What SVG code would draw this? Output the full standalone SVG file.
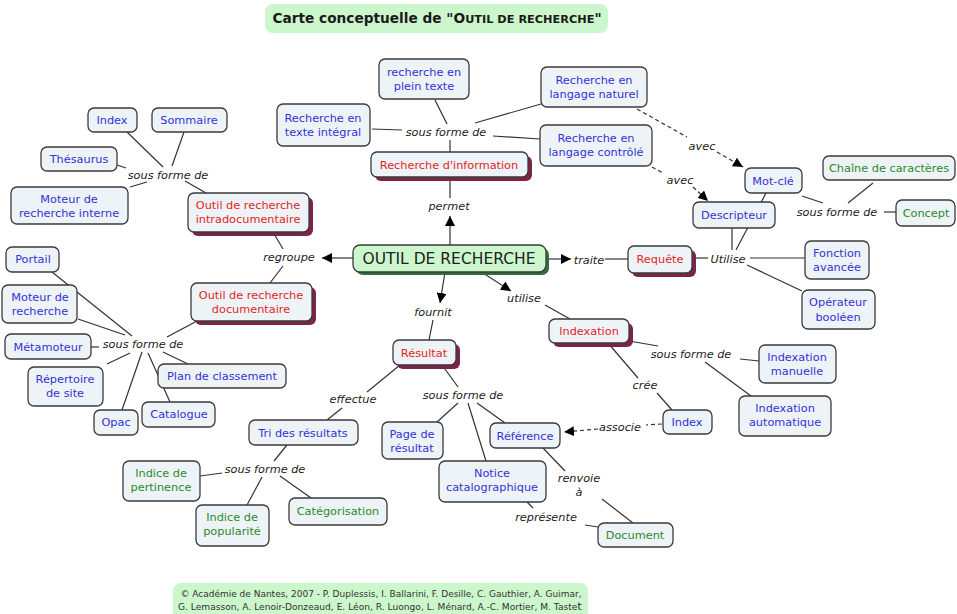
<svg xmlns="http://www.w3.org/2000/svg" width="957" height="614" viewBox="0 0 957 614">
<style>
.n rect.box{fill:#eef3f7;stroke:#3a3a3a;stroke-width:1.3}
.sh{fill:#7b2349}
text{font-family:"DejaVu Sans",Verdana,sans-serif;font-size:11.3px;text-anchor:middle}
.b{fill:#3232d8}
.r{fill:#e42424}
.g{fill:#2a8a2a}
.l{fill:#222;font-style:italic}
#connectors line{stroke:#333;stroke-width:1.2}
#connectors line.d{stroke-dasharray:4 3}
</style>
<defs>
<marker id="ah" viewBox="0 0 10 10" refX="10" refY="5" markerWidth="10" markerHeight="10" markerUnits="userSpaceOnUse" orient="auto"><path d="M0,0 L10,5 L0,10 z" fill="#000"/></marker>
</defs>
<rect width="957" height="614" fill="#fff"/>
<g id="title">
<rect x="265" y="4" width="343" height="29" rx="8" fill="#ccf7cc"/>
<text x="437" y="23" style="font-weight:bold;font-size:13.7px;fill:#1a1a1a">Carte conceptuelle de "O<tspan style="font-size:11.3px">UTIL DE RECHERCHE</tspan>"</text>
</g>
<g id="connectors">
<line x1="435" y1="100" x2="447" y2="124"/>
<line x1="372" y1="129" x2="402" y2="130"/>
<line x1="475" y1="123" x2="541" y2="104"/>
<line x1="493" y1="136" x2="540" y2="139"/>
<line x1="450" y1="140" x2="450" y2="152"/>
<line x1="450" y1="177" x2="450" y2="198"/>
<line x1="450" y1="245" x2="450" y2="216" marker-end="url(#ah)"/>
<line x1="353" y1="258" x2="322" y2="258" marker-end="url(#ah)"/>
<line x1="546" y1="259" x2="571" y2="259" marker-end="url(#ah)"/>
<line x1="445" y1="272" x2="440" y2="303" marker-end="url(#ah)"/>
<line x1="483" y1="273" x2="511" y2="291" marker-end="url(#ah)"/>
<line class="d" x1="637" y1="109" x2="687" y2="137"/>
<line class="d" x1="717" y1="152" x2="743" y2="167" marker-end="url(#ah)"/>
<line class="d" x1="652" y1="167" x2="663" y2="173"/>
<line class="d" x1="693" y1="187" x2="708" y2="201" marker-end="url(#ah)"/>
<line class="d" x1="662" y1="424" x2="646" y2="425"/>
<line class="d" x1="598" y1="429" x2="564" y2="432" marker-end="url(#ah)"/>
<line x1="605" y1="259" x2="628" y2="259"/>
<line x1="692" y1="258" x2="708" y2="258"/>
<line x1="732" y1="228" x2="732" y2="250"/>
<line x1="766" y1="193" x2="736" y2="250"/>
<line x1="750" y1="258" x2="805" y2="258"/>
<line x1="747" y1="265" x2="802" y2="291"/>
<line x1="802" y1="196" x2="823" y2="203"/>
<line x1="848" y1="203" x2="873" y2="183"/>
<line x1="884" y1="212" x2="896" y2="212"/>
<line x1="127" y1="132" x2="163" y2="167"/>
<line x1="184" y1="132" x2="172" y2="166"/>
<line x1="117" y1="165" x2="126" y2="168"/>
<line x1="130" y1="187" x2="147" y2="182"/>
<line x1="185" y1="181" x2="206" y2="193"/>
<line x1="273" y1="232" x2="283" y2="249"/>
<line x1="283" y1="266" x2="270" y2="283"/>
<line x1="52" y1="272" x2="132" y2="336"/>
<line x1="78" y1="319" x2="125" y2="335"/>
<line x1="91" y1="347" x2="99" y2="347"/>
<line x1="107" y1="364" x2="130" y2="353"/>
<line x1="122" y1="410" x2="142" y2="352"/>
<line x1="170" y1="402" x2="148" y2="353"/>
<line x1="163" y1="352" x2="188" y2="364"/>
<line x1="167" y1="337" x2="197" y2="321"/>
<line x1="433" y1="320" x2="429" y2="340"/>
<line x1="400" y1="365" x2="367" y2="392"/>
<line x1="342" y1="408" x2="327" y2="420"/>
<line x1="442" y1="365" x2="458" y2="387"/>
<line x1="458" y1="403" x2="437" y2="422"/>
<line x1="468" y1="403" x2="486" y2="461"/>
<line x1="477" y1="403" x2="505" y2="423"/>
<line x1="543" y1="448" x2="565" y2="471"/>
<line x1="602" y1="499" x2="633" y2="523"/>
<line x1="527" y1="502" x2="533" y2="508"/>
<line x1="585" y1="525" x2="598" y2="527"/>
<line x1="287" y1="445" x2="274" y2="461"/>
<line x1="222" y1="473" x2="200" y2="476"/>
<line x1="262" y1="477" x2="247" y2="505"/>
<line x1="280" y1="476" x2="311" y2="498"/>
<line x1="545" y1="305" x2="570" y2="319"/>
<line x1="629" y1="341" x2="658" y2="346"/>
<line x1="740" y1="359" x2="759" y2="361"/>
<line x1="705" y1="362" x2="751" y2="396"/>
<line x1="608" y1="343" x2="638" y2="378"/>
<line x1="657" y1="393" x2="672" y2="410"/>
</g>
<g id="labels">
<text class="l" x="446" y="136">sous forme de</text>
<text class="l" x="449" y="210">permet</text>
<text class="l" x="289" y="261">regroupe</text>
<text class="l" x="589" y="264">traite</text>
<text class="l" x="433" y="316">fournit</text>
<text class="l" x="524" y="302">utilise</text>
<text class="l" x="728" y="263">Utilise</text>
<text class="l" x="702" y="150">avec</text>
<text class="l" x="680" y="184">avec</text>
<text class="l" x="837" y="216">sous forme de</text>
<text class="l" x="168" y="179">sous forme de</text>
<text class="l" x="143" y="348">sous forme de</text>
<text class="l" x="353" y="403">effectue</text>
<text class="l" x="463" y="399">sous forme de</text>
<text class="l" x="265" y="473">sous forme de</text>
<text class="l" x="579" y="482">renvoie</text>
<text class="l" x="579" y="496">à</text>
<text class="l" x="546" y="521">représente</text>
<text class="l" x="691" y="358">sous forme de</text>
<text class="l" x="645" y="389">crée</text>
<text class="l" x="620" y="431">associe</text>
</g>
<g id="n_plein" class="n"><rect class="box" x="379" y="59" width="90" height="40" rx="6"/><text class="b" x="424" y="76">recherche en</text><text class="b" x="424" y="90">plein texte</text></g>
<g id="n_integral" class="n"><rect class="box" x="277" y="104" width="93" height="42" rx="6"/><text class="b" x="323" y="122">Recherche en</text><text class="b" x="323" y="136">texte intégral</text></g>
<g id="n_naturel" class="n"><rect class="box" x="541" y="67" width="106" height="40" rx="6"/><text class="b" x="594" y="84">Recherche en</text><text class="b" x="594" y="98">langage naturel</text></g>
<g id="n_controle" class="n"><rect class="box" x="540" y="125" width="112" height="41" rx="6"/><text class="b" x="596" y="142">Recherche en</text><text class="b" x="596" y="156">langage contrôlé</text></g>
<g id="n_recinfo" class="n"><rect class="sh" x="375" y="156" width="157" height="25" rx="6"/><rect class="box" x="371" y="152" width="157" height="25" rx="6"/><text class="r" x="449" y="169">Recherche d'information</text></g>
<g id="n_outil" class="n"><rect x="356" y="248" width="193" height="27" rx="7" fill="#2f6e3f"/><rect x="353" y="245" width="193" height="27" rx="7" fill="#ccf7cc" stroke="#3a3a3a" stroke-width="1.3"/><text x="449" y="264" style="font-size:15.5px;fill:#222">OUTIL DE RECHERCHE</text></g>
<g id="n_requete" class="n"><rect class="sh" x="632" y="250" width="64" height="27" rx="6"/><rect class="box" x="628" y="246" width="64" height="27" rx="6"/><text class="r" x="660" y="263">Requête</text></g>
<g id="n_fonction" class="n"><rect class="box" x="805" y="241" width="64" height="38" rx="6"/><text class="b" x="837" y="257">Fonction</text><text class="b" x="837" y="271">avancée</text></g>
<g id="n_operateur" class="n"><rect class="box" x="802" y="290" width="73" height="39" rx="6"/><text class="b" x="838" y="306">Opérateur</text><text class="b" x="838" y="321">booléen</text></g>
<g id="n_motcle" class="n"><rect class="box" x="745" y="168" width="57" height="25" rx="6"/><text class="b" x="773" y="185">Mot-clé</text></g>
<g id="n_descripteur" class="n"><rect class="box" x="693" y="202" width="82" height="26" rx="6"/><text class="b" x="734" y="219">Descripteur</text></g>
<g id="n_chaine" class="n"><rect class="box" x="823" y="156" width="132" height="24" rx="6"/><text class="g" x="889" y="172">Chaîne de caractères</text></g>
<g id="n_concept" class="n"><rect class="box" x="896" y="200" width="59" height="26" rx="6"/><text class="g" x="926" y="217">Concept</text></g>
<g id="n_index1" class="n"><rect class="box" x="88" y="108" width="49" height="24" rx="6"/><text class="b" x="112" y="124">Index</text></g>
<g id="n_sommaire" class="n"><rect class="box" x="152" y="108" width="75" height="24" rx="6"/><text class="b" x="189" y="124">Sommaire</text></g>
<g id="n_thesaurus" class="n"><rect class="box" x="41" y="147" width="76" height="24" rx="6"/><text class="b" x="79" y="163">Thésaurus</text></g>
<g id="n_moteurint" class="n"><rect class="box" x="11" y="187" width="117" height="37" rx="6"/><text class="b" x="69" y="203">Moteur de</text><text class="b" x="69" y="217">recherche interne</text></g>
<g id="n_intra" class="n"><rect class="sh" x="192" y="197" width="121" height="39" rx="6"/><rect class="box" x="188" y="193" width="121" height="39" rx="6"/><text class="r" x="248" y="209">Outil de recherche</text><text class="r" x="248" y="223">intradocumentaire</text></g>
<g id="n_portail" class="n"><rect class="box" x="6" y="247" width="53" height="25" rx="6"/><text class="b" x="33" y="263">Portail</text></g>
<g id="n_moteur" class="n"><rect class="box" x="2" y="285" width="75" height="38" rx="6"/><text class="b" x="40" y="301">Moteur de</text><text class="b" x="40" y="315">recherche</text></g>
<g id="n_metamoteur" class="n"><rect class="box" x="5" y="334" width="86" height="25" rx="6"/><text class="b" x="48" y="351">Métamoteur</text></g>
<g id="n_repertoire" class="n"><rect class="box" x="28" y="367" width="75" height="39" rx="6"/><text class="b" x="65" y="383">Répertoire</text><text class="b" x="65" y="397">de site</text></g>
<g id="n_opac" class="n"><rect class="box" x="94" y="410" width="44" height="25" rx="6"/><text class="b" x="116" y="426">Opac</text></g>
<g id="n_catalogue" class="n"><rect class="box" x="142" y="402" width="73" height="25" rx="6"/><text class="b" x="179" y="418">Catalogue</text></g>
<g id="n_plan" class="n"><rect class="box" x="158" y="364" width="128" height="24" rx="6"/><text class="b" x="222" y="380">Plan de classement</text></g>
<g id="n_doc" class="n"><rect class="sh" x="195" y="287" width="121" height="38" rx="6"/><rect class="box" x="191" y="283" width="121" height="38" rx="6"/><text class="r" x="251" y="299">Outil de recherche</text><text class="r" x="251" y="313">documentaire</text></g>
<g id="n_resultat" class="n"><rect class="sh" x="397" y="344" width="63" height="25" rx="6"/><rect class="box" x="393" y="340" width="63" height="25" rx="6"/><text class="r" x="424" y="357">Résultat</text></g>
<g id="n_tri" class="n"><rect class="box" x="249" y="420" width="109" height="25" rx="6"/><text class="b" x="303" y="437">Tri des résultats</text></g>
<g id="n_page" class="n"><rect class="box" x="382" y="422" width="61" height="37" rx="6"/><text class="b" x="412" y="438">Page de</text><text class="b" x="412" y="452">résultat</text></g>
<g id="n_reference" class="n"><rect class="box" x="490" y="423" width="70" height="25" rx="6"/><text class="b" x="525" y="440">Référence</text></g>
<g id="n_notice" class="n"><rect class="box" x="439" y="461" width="107" height="41" rx="6"/><text class="b" x="492" y="477">Notice</text><text class="b" x="492" y="491">catalographique</text></g>
<g id="n_document" class="n"><rect class="box" x="598" y="523" width="75" height="24" rx="6"/><text class="g" x="635" y="539">Document</text></g>
<g id="n_pertinence" class="n"><rect class="box" x="123" y="461" width="77" height="40" rx="6"/><text class="g" x="161" y="477">Indice de</text><text class="g" x="161" y="491">pertinence</text></g>
<g id="n_popularite" class="n"><rect class="box" x="196" y="505" width="73" height="41" rx="6"/><text class="g" x="232" y="521">Indice de</text><text class="g" x="232" y="535">popularité</text></g>
<g id="n_categorisation" class="n"><rect class="box" x="289" y="498" width="98" height="27" rx="6"/><text class="g" x="338" y="515">Catégorisation</text></g>
<g id="n_indexation" class="n"><rect class="sh" x="553" y="323" width="80" height="24" rx="6"/><rect class="box" x="549" y="319" width="80" height="24" rx="6"/><text class="r" x="589" y="335">Indexation</text></g>
<g id="n_manuelle" class="n"><rect class="box" x="759" y="345" width="77" height="38" rx="6"/><text class="b" x="797" y="361">Indexation</text><text class="b" x="797" y="375">manuelle</text></g>
<g id="n_automatique" class="n"><rect class="box" x="739" y="396" width="92" height="40" rx="6"/><text class="b" x="785" y="412">Indexation</text><text class="b" x="785" y="426">automatique</text></g>
<g id="n_index2" class="n"><rect class="box" x="663" y="410" width="49" height="24" rx="6"/><text class="b" x="687" y="426">Index</text></g>
<g id="footer">
<rect x="173" y="583" width="415" height="40" rx="8" fill="#ccf7cc"/>
<text x="381" y="597" textLength="401" lengthAdjust="spacingAndGlyphs" style="font-size:8.5px;fill:#333">© Académie de Nantes, 2007 - P. Duplessis, I. Ballarini, F. Desille, C. Gauthier, A. Guimar,</text>
<text x="380" y="610" textLength="404" lengthAdjust="spacingAndGlyphs" style="font-size:8.5px;fill:#333">G. Lemasson, A. Lenoir-Donzeaud, E. Léon, R. Luongo, L. Ménard, A.-C. Mortier, M. Taste<tspan style="font-size:11px">t</tspan></text>
</g>
</svg>
